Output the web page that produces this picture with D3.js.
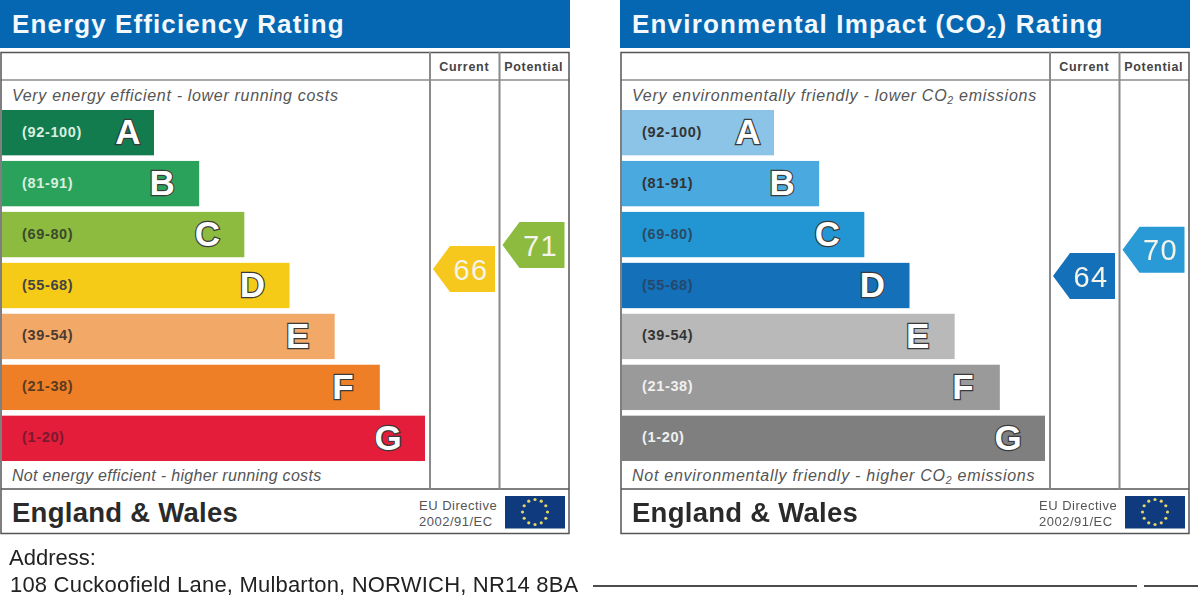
<!DOCTYPE html>
<html>
<head>
<meta charset="utf-8">
<script src="https://cdnjs.cloudflare.com/ajax/libs/d3/7.8.5/d3.min.js"></script>
<style>
  html, body { margin: 0; padding: 0; background: #fff; overflow: hidden; }
  svg { display: block; filter: blur(0.45px); }
  text { font-family: "Liberation Sans", Arial, sans-serif; }
</style>
</head>
<body>
<script>
// values
const bandLetters = ['A', 'B', 'C', 'D', 'E', 'F', 'G'];
const bandRanges = ['(92-100)', '(81-91)', '(69-80)', '(55-68)', '(39-54)', '(21-38)', '(1-20)'];
const energyColours = ['#127c4f', '#2ba25b', '#8cbb3f', '#f6cb17', '#f2a867', '#ee7f26', '#e31d3a'];
const co2Colours = ['#8cc4e8', '#4aa9de', '#2296d3', '#1470b9', '#b9b9b9', '#9a9a9a', '#7f7f7f'];
const energyRangeInk = ['#d8efe0', '#d8efe0', '#3a4a2a', '#444', '#4a3a30', '#5a3a20', '#7a1a30'];
const co2RangeInk = ['#333', '#333', '#2a4a66', '#24486c', '#333', '#f0f0f0', '#f0f0f0'];
const energyScores = [66, 71];
const energyArrowColours = ['#f6c71c', '#8cbb3f'];
const co2Scores = [64, 70];
const co2ArrowColours = ['#1470b9', '#2a9ad6'];
const columnNames = ['Current', 'Potential'];

let w = 1200;
let h = 603;

let svg = d3.select('body')
  .append('svg')
  .attr('width', w)
  .attr('height', h);

// band position, and bar length growing step by step from A to G
let yBand = d3.scaleBand()
  .domain(bandLetters)
  .range([110, 461])
  .paddingInner(0.11)
  .paddingOuter(0);

let xLength = d3.scaleLinear()
  .domain([0, bandLetters.length - 1])
  .range([154, 425]);

// score to arrow centre
let yScore = d3.scaleLinear()
  .domain([64, 66, 71])
  .range([276, 269, 245]);

let xColumn = d3.scaleBand()
  .domain(columnNames)
  .range([430, 569]);

let drawPanel = (x0, opt) => {
  let g = svg.append('g').attr('transform', 'translate(' + x0 + ',0)');

  g.append('rect')
    .attr('x', 0).attr('y', 0)
    .attr('width', 570).attr('height', 48)
    .attr('fill', '#0567b2');

  let title = g.append('text')
    .attr('x', 12).attr('y', 33)
    .attr('fill', '#f2f8fc')
    .attr('font-size', 26)
    .attr('font-weight', 'bold')
    .attr('letter-spacing', opt.titleSpacing);
  opt.title.forEach(part => {
    title.append('tspan')
      .attr('font-size', part.sub ? 17 : null)
      .attr('dy', part.sub ? 5 : (part.after ? -5 : null))
      .text(part.t);
  });

  // frame
  g.append('rect')
    .attr('x', 1).attr('y', 52.5)
    .attr('width', 568).attr('height', 481)
    .attr('fill', '#fff')
    .attr('stroke', '#555')
    .attr('stroke-width', 1.5);

  g.append('line').attr('x1', 1).attr('x2', 569).attr('y1', 80).attr('y2', 80)
    .attr('stroke', '#555').attr('stroke-width', 1.2);
  g.append('line').attr('x1', 1).attr('x2', 569).attr('y1', 489).attr('y2', 489)
    .attr('stroke', '#555').attr('stroke-width', 1.5);

  g.selectAll('line.col')
    .data(columnNames)
    .enter()
    .append('line')
    .attr('class', 'col')
    .attr('x1', d => xColumn(d)).attr('x2', d => xColumn(d))
    .attr('y1', 52).attr('y2', 489)
    .attr('stroke', '#8a8a8a').attr('stroke-width', 2);

  g.selectAll('text.colname')
    .data(columnNames)
    .enter()
    .append('text')
    .attr('class', 'colname')
    .attr('x', d => xColumn(d) + xColumn.bandwidth() / 2 - 0.5)
    .attr('y', 71)
    .attr('text-anchor', 'middle')
    .attr('font-size', 12.5)
    .attr('font-weight', 'bold')
    .attr('letter-spacing', 0.7)
    .attr('fill', '#444')
    .text(d => d);

  let note = (parts, spacing, y) => {
    let t = g.append('text')
      .attr('x', 12).attr('y', y)
      .attr('font-size', 16)
      .attr('font-style', 'italic')
      .attr('letter-spacing', spacing)
      .attr('fill', '#555');
    parts.forEach(part => {
      t.append('tspan')
        .attr('font-size', part.sub ? 10.5 : null)
        .attr('dy', part.sub ? 3 : (part.after ? -3 : null))
        .text(part.t);
    });
  };
  note(opt.top, opt.topSpacing, 100.5);
  note(opt.bottom, opt.bottomSpacing, 480.5);

  // bars
  let bars = g.selectAll('g.band')
    .data(bandLetters)
    .enter()
    .append('g')
    .attr('class', 'band');

  bars.append('rect')
    .attr('x', 2)
    .attr('y', d => yBand(d))
    .attr('width', (d, i) => xLength(i) - 2)
    .attr('height', yBand.bandwidth())
    .attr('fill', (d, i) => opt.colours[i]);

  bars.append('text')
    .attr('x', 22)
    .attr('y', d => yBand(d) + yBand.bandwidth() / 2 + 4)
    .attr('font-size', 14.5)
    .attr('font-weight', 'bold')
    .attr('letter-spacing', 0.65)
    .attr('fill', (d, i) => opt.rangeInk[i])
    .text((d, i) => bandRanges[i]);

  bars.append('text')
    .attr('x', (d, i) => xLength(i) - (i === 0 ? 26 : 37))
    .attr('y', d => yBand(d) + yBand.bandwidth() / 2 + 11.5)
    .attr('text-anchor', 'middle')
    .attr('font-size', 35)
    .attr('font-weight', 'bold')
    .attr('fill', '#fff')
    .attr('stroke', '#3a3a3a')
    .attr('stroke-width', 2.4)
    .attr('paint-order', 'stroke')
    .text(d => d);

  // score arrows
  let arrows = g.selectAll('g.score')
    .data(opt.scores)
    .enter()
    .append('g')
    .attr('class', 'score')
    .attr('transform', (d, i) => 'translate(' + (xColumn(columnNames[i]) + xColumn.bandwidth() - 4.5) + ',' + yScore(d) + ')');

  arrows.append('path')
    .attr('d', 'M0,-23 L-45,-23 L-62,0 L-45,23 L0,23 Z')
    .attr('fill', (d, i) => opt.arrowColours[i]);

  arrows.append('text')
    .attr('x', -24)
    .attr('y', 10.5)
    .attr('text-anchor', 'middle')
    .attr('font-size', 29)
    .attr('letter-spacing', 1.5)
    .attr('fill', '#f4f4ea')
    .text(d => d);

  // footer
  g.append('text')
    .attr('x', 12).attr('y', 522)
    .attr('font-size', 27.5)
    .attr('font-weight', 'bold')
    .attr('letter-spacing', 0.27)
    .attr('fill', '#2a2a2a')
    .text('England & Wales');

  g.append('text')
    .attr('x', 419).attr('y', 510)
    .attr('font-size', 13)
    .attr('letter-spacing', 0.5)
    .attr('fill', '#555')
    .text('EU Directive');
  g.append('text')
    .attr('x', 419).attr('y', 526)
    .attr('font-size', 13)
    .attr('letter-spacing', 0.5)
    .attr('fill', '#555')
    .text('2002/91/EC');

  g.append('rect')
    .attr('x', 505).attr('y', 496)
    .attr('width', 60).attr('height', 32.5)
    .attr('fill', '#0f3a7d');

  g.selectAll('circle.star')
    .data(d3.range(12))
    .enter()
    .append('circle')
    .attr('class', 'star')
    .attr('cx', d => 535 + 12.5 * Math.sin(d * Math.PI / 6))
    .attr('cy', d => 512 + 12.5 * Math.cos(d * Math.PI / 6))
    .attr('r', 1.6)
    .attr('fill', '#e4d56a');
};

drawPanel(0, {
  title: [{ t: 'Energy Efficiency Rating' }],
  titleSpacing: 1.1,
  topSpacing: 0.68,
  bottomSpacing: 0.31,
  top: [{ t: 'Very energy efficient - lower running costs' }],
  bottom: [{ t: 'Not energy efficient - higher running costs' }],
  colours: energyColours,
  rangeInk: energyRangeInk,
  scores: energyScores,
  arrowColours: energyArrowColours
});

drawPanel(620, {
  title: [{ t: 'Environmental Impact (CO' }, { t: '2', sub: true }, { t: ') Rating', after: true }],
  titleSpacing: 1.18,
  topSpacing: 0.74,
  bottomSpacing: 0.73,
  top: [{ t: 'Very environmentally friendly - lower CO' }, { t: '2', sub: true }, { t: ' emissions', after: true }],
  bottom: [{ t: 'Not environmentally friendly - higher CO' }, { t: '2', sub: true }, { t: ' emissions', after: true }],
  colours: co2Colours,
  rangeInk: co2RangeInk,
  scores: co2Scores,
  arrowColours: co2ArrowColours
});

// address block
svg.append('text')
  .attr('x', 9).attr('y', 565)
  .attr('font-size', 22)
  .attr('fill', '#222')
  .text('Address:');

svg.append('text')
  .attr('x', 10).attr('y', 592)
  .attr('font-size', 22)
  .attr('letter-spacing', 0.2)
  .attr('fill', '#222')
  .text('108 Cuckoofield Lane, Mulbarton, NORWICH, NR14 8BA');

svg.selectAll('line.rule')
  .data([[593, 1137], [1144, 1198]])
  .enter()
  .append('line')
  .attr('class', 'rule')
  .attr('x1', d => d[0]).attr('x2', d => d[1])
  .attr('y1', 586).attr('y2', 586)
  .attr('stroke', '#111').attr('stroke-width', 1.4);
</script>
</body>
</html>
